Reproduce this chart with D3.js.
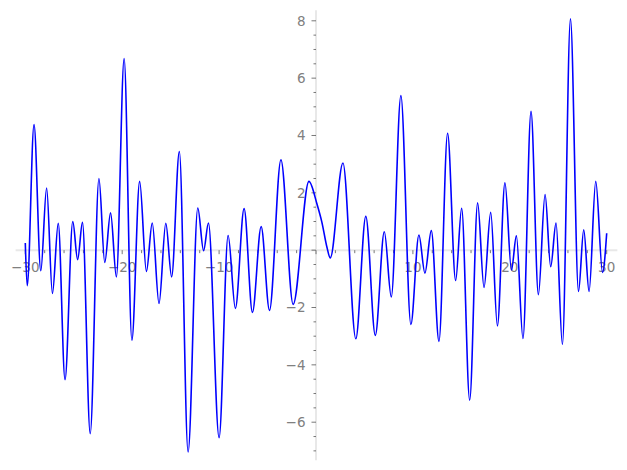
<!DOCTYPE html>
<html><head><meta charset="utf-8">
<script src="https://cdn.jsdelivr.net/npm/d3@7"></script>
<style>body{margin:0;background:#fff}svg{display:block}</style>
</head><body>
<svg id="chart" width="627" height="470"></svg>
<script>
// Curve samples (local extrema and a few shape points)
const xValues = [-30.0,-29.8,-29.1,-28.4,-27.8,-27.2,-26.6,-25.9,-25.1,-24.6,-24.1,-23.3,-22.4,-21.8,-21.2,-20.6,-19.8,-19.0,-18.2,-17.5,-16.9,-16.2,-15.5,-14.9,-14.1,-13.2,-12.2,-11.6,-11.1,-10.0,-9.07,-8.32,-7.42,-6.56,-5.66,-4.80,-3.62,-2.36,-0.73,0.1,0.61,1.13,1.47,2.78,4.11,5.14,6.12,7.05,7.77,8.76,9.79,10.62,11.24,11.9,12.69,13.58,14.41,15.03,15.86,16.68,17.34,18.03,18.72,19.5,20.17,20.68,21.36,22.19,22.95,23.64,24.22,24.77,25.43,26.26,27.09,27.63,28.18,28.87,29.57,30.0];
const yValues = [0.25,-1.24,4.38,-0.72,2.17,-1.51,0.94,-4.52,1.0,-0.33,0.97,-6.4,2.5,-0.43,1.3,-0.93,6.68,-3.14,2.4,-0.74,0.95,-1.86,0.94,-0.93,3.44,-7.04,1.47,-0.02,0.95,-6.54,0.51,-2.03,1.45,-2.17,0.82,-2.1,3.15,-1.89,2.40,1.61,0.97,0.1,-0.27,3.04,-3.09,1.18,-2.97,0.64,-1.63,5.39,-2.59,0.53,-0.80,0.68,-3.18,4.08,-1.06,1.46,-5.23,1.65,-1.3,1.32,-2.64,2.35,-0.69,0.5,-3.08,4.84,-1.55,1.94,-0.58,0.95,-3.29,8.07,-1.44,0.71,-1.44,2.4,-0.78,0.59];
const xTickLabels = [-30,-20,-10,10,20,30];
const yTickLabels = [-6,-4,-2,2,4,6,8];
const xMinorTicks = d3.range(-30, 31, 2);
const yMinorTicks = d3.range(-7, 8.01, 0.5);

const svg = d3.select("#chart");
const x = d3.scaleLinear().domain([-30, 30]).range([25.3, 606.7]);
const y = d3.scaleLinear().domain([-6, 8]).range([422.2, 20.8]);

const axisCol = "#e8e8e8", tickCol = "#555", labCol = "#808080";
const font = "DejaVu Sans, sans-serif";

// axis lines
svg.append("line").attr("x1", x(-31.0)).attr("x2", x(31.1)).attr("y1", y(0)).attr("y2", y(0))
  .attr("stroke", axisCol).attr("stroke-width", 2);
svg.append("line").attr("x1", x(0)).attr("x2", x(0)).attr("y1", y(8.37)).attr("y2", y(-7.33))
  .attr("stroke", axisCol).attr("stroke-width", 2);

// x ticks
svg.append("g").selectAll("line").data(xMinorTicks).join("line")
  .attr("x1", d => x(d)).attr("x2", d => x(d))
  .attr("y1", y(0)).attr("y2", d => y(0) + (d % 10 === 0 ? 4 : 3))
  .attr("stroke", tickCol).attr("stroke-width", 0.8);
// y ticks
svg.append("g").selectAll("line").data(yMinorTicks).join("line")
  .attr("y1", d => y(d)).attr("y2", d => y(d))
  .attr("x1", d => x(0) - (Number.isInteger(d / 2) ? 4.5 : 2.5)).attr("x2", x(0))
  .attr("stroke", tickCol).attr("stroke-width", 0.8);

// labels
svg.append("g").selectAll("text").data(xTickLabels).join("text")
  .attr("x", d => x(d)).attr("y", y(0) + 21.5)
  .attr("text-anchor", "middle").attr("fill", labCol)
  .style("font-family", font).style("font-size", "13.5px")
  .text(d => d3.format("")(d).replace("-", "\u2212"));
svg.append("g").selectAll("text").data(yTickLabels).join("text")
  .attr("x", x(0) - 10.5).attr("y", d => y(d)).attr("dy", "0.36em")
  .attr("text-anchor", "end").attr("fill", labCol)
  .style("font-family", font).style("font-size", "13.5px")
  .text(d => d3.format("")(d).replace("-", "\u2212"));

// curve
const pts = xValues.map((v, i) => [v, yValues[i]]);
const line = d3.line().x(d => x(d[0])).y(d => y(d[1])).curve(d3.curveMonotoneX);
svg.append("path").datum(pts).attr("d", line)
  .attr("fill", "none").attr("stroke", "#0000ff").attr("stroke-width", 1.6)
  .attr("stroke-linejoin", "round");
</script>
</body></html>
